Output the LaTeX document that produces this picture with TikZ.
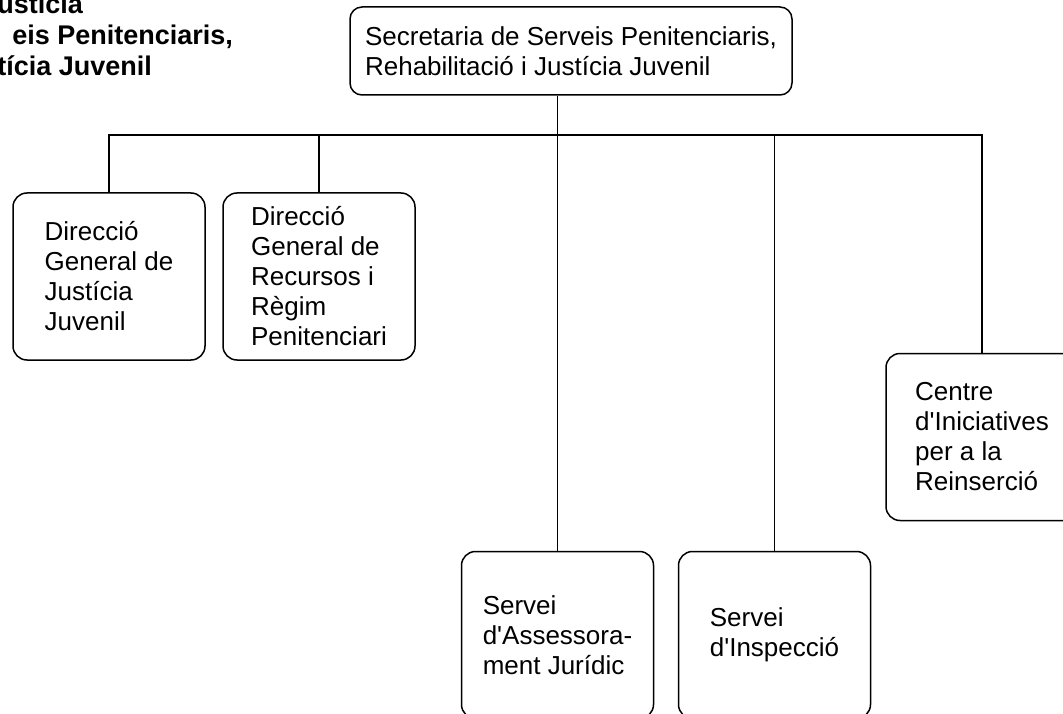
\documentclass[tikz,border=0pt]{standalone}
\usepackage{fontspec}
\setmainfont{Liberation Sans}
\usepackage{tikz}
\tikzstyle{block} = [rectangle, draw, line width=1.5pt, rounded corners=14pt,
    minimum width=192pt, minimum height=167pt, align=left, font=\fontsize{26}{30}\selectfont]
\tikzstyle{topblock} = [block, minimum width=442pt, minimum height=88pt, rounded corners=12pt]
\tikzstyle{heading} = [align=left, inner sep=0pt, font=\fontsize{27}{31}\selectfont\bfseries]
\tikzstyle{line} = [draw, line width=1.5pt]

\begin{document}
\begin{tikzpicture}[auto, thick]
      \useasboundingbox (0,0) rectangle (1063pt,-714pt);
      % Place nodes
      \node [heading, anchor=north west] (department) at (-3pt,7pt) {ustícia\\\hspace*{15pt}eis Penitenciaris,\\tícia Juvenil};
      \node [topblock] (secretaria) at (571pt,-51pt) {Secretaria de Serveis Penitenciaris,\\Rehabilitació i Justícia Juvenil};

      \node [block, below of=secretaria, node distance=225.5pt, xshift=-462pt] (justiciaJuvenil) {Direcció\\General de\\Justícia\\Juvenil};
      \node [block, right of=justiciaJuvenil, node distance=210pt] (recursos) {Direcció\\General de\\Recursos i\\Règim\\Penitenciari};
      \node [block, below of=secretaria, node distance=584pt, xshift=-13.5pt] (assessorament) {Servei\\d\textquotesingle Assessora-\\ment Jurídic};
      \node [block, right of=assessorament, node distance=217pt] (inspeccio) {Servei\\d\textquotesingle Inspecció};
      \node [block, right of=inspeccio, node distance=207.5pt, yshift=198pt] (reinsercio) {Centre\\d\textquotesingle Iniciatives\\per a la\\Reinserció};

      \coordinate (bus) at (0,-135pt);

      \path [line] (secretaria.south -| assessorament) -- (assessorament);
      \path [line] (justiciaJuvenil) |- (bus -| reinsercio) -- (reinsercio);
      \path [line] (recursos) -- (recursos |- bus);
      \path [line] (inspeccio) -- (inspeccio |- bus);

  \end{tikzpicture}
\end{document}
